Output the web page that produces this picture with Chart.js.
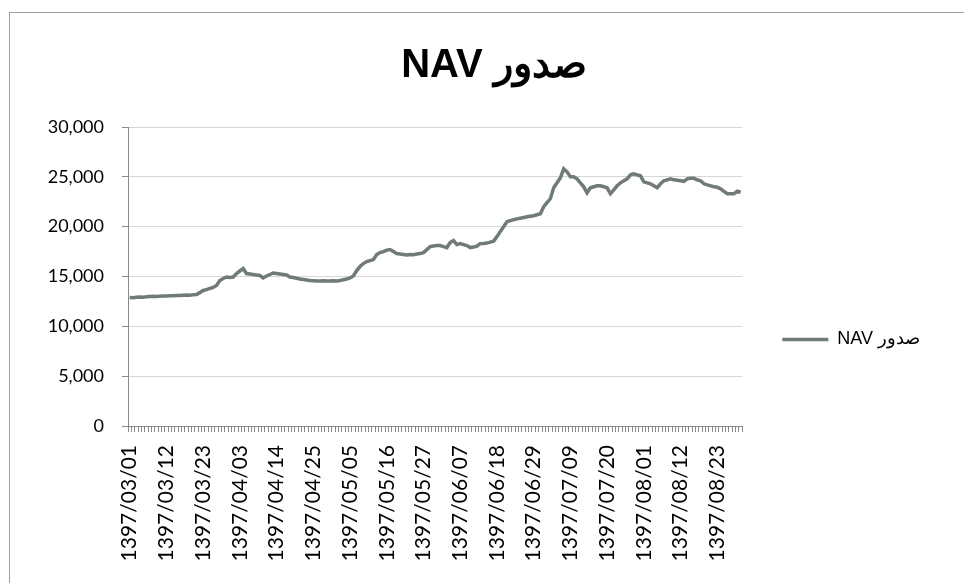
<!DOCTYPE html>
<html><head><meta charset="utf-8">
<script src="https://cdn.jsdelivr.net/npm/chart.js@4.4.0/dist/chart.umd.min.js"></script>
<style>
html,body{margin:0;padding:0;background:#fff;}
#wrap{position:relative;width:964px;height:583px;overflow:hidden;}
#frame{position:absolute;left:9px;top:12px;right:-4px;bottom:-4px;border-left:1px solid #a0a0a0;border-top:1px solid #a0a0a0;pointer-events:none;}
</style></head><body>
<div id="wrap"><canvas id="c" width="964" height="583"></canvas><div id="frame"></div></div>
<script>
// Persian calendar months 03..08 of 1397 and their day counts (data runs through 08/30)
const yearLabel = '1397';
const months = ['03','04','05','06','07','08'];
const monthDays = [31, 31, 31, 31, 30, 30];

const categories = [];
months.forEach((m, k) => {
  for (let d = 1; d <= monthDays[k]; d++) {
    categories.push(yearLabel + '/' + m + '/' + String(d).padStart(2, '0'));
  }
});

const tickLabels = ['1397/03/01','1397/03/12','1397/03/23','1397/04/03','1397/04/14','1397/04/25',
  '1397/05/05','1397/05/16','1397/05/27','1397/06/07','1397/06/18','1397/06/29',
  '1397/07/09','1397/07/20','1397/08/01','1397/08/12','1397/08/23'];

const navValues = [
  12900,12880,12920,12950,12930,12960,13000,13010,12990,13030,
  13050,13040,13070,13080,13100,13090,13120,13140,13130,13160,
  13200,13380,13600,13680,13800,13900,14100,14600,14800,14950,
  14900,14950,15300,15550,15800,15300,15250,15200,15150,15100,
  14850,15050,15200,15350,15300,15250,15200,15150,14950,14900,
  14820,14750,14700,14650,14600,14580,14560,14550,14570,14540,
  14550,14580,14560,14600,14680,14750,14850,15050,15600,16000,
  16300,16500,16600,16700,17200,17400,17500,17650,17700,17500,
  17300,17250,17200,17150,17200,17180,17250,17300,17400,17700,
  18000,18050,18100,18100,18000,17900,18400,18600,18200,18300,
  18200,18100,17900,17950,18050,18300,18320,18350,18450,18550,
  19000,19500,20000,20500,20600,20700,20780,20850,20920,21000,
  21050,21100,21200,21300,22000,22400,22800,23900,24400,24900,
  25800,25500,25000,25000,24800,24400,24000,23400,23900,24000,
  24100,24100,24000,23900,23300,23700,24100,24400,24600,24800,
  25200,25300,25200,25100,24500,24400,24300,24100,23900,24300,
  24600,24700,24800,24700,24650,24600,24550,24800,24850,24850,
  24700,24600,24300,24200,24100,24000,23950,23800,23550,23300,
  23300,23300,23550,23450
];

const yTicks = [0, 5000, 10000, 15000, 20000, 25000, 30000];
const seriesName = 'صدور NAV';
const titleText = 'صدور NAV';
const RLE = '\u202B', PDF = '\u202C';

// nudges the title block to the right so it is centred like the original frame
const titleShift = {
  id: 'titleShift',
  afterLayout(chart) {
    const t = chart.titleBlock;
    if (t) { t.left += 20; t.right += 20; }
  }
};

new Chart(document.getElementById('c'), {
  type: 'line',
  plugins: [titleShift],
  data: {
    labels: categories,
    datasets: [{
      label: RLE + seriesName + PDF,
      data: navValues,
      borderColor: '#6f7b74',
      backgroundColor: '#6f7b74',
      borderWidth: 3.5,
      pointRadius: 0,
      pointHoverRadius: 0,
      tension: 0,
      pointStyle: 'line'
    }]
  },
  options: {
    responsive: false,
    animation: false,
    devicePixelRatio: 1,
    layout: { padding: { left: 18, right: 34, top: 12, bottom: 8 } },
    plugins: {
      tooltip: { enabled: false },
      title: {
        display: true,
        text: RLE + titleText + PDF,
        color: '#000',
        font: { family: '"Liberation Sans", Arial, sans-serif', size: 40, weight: 'bold', lineHeight: 1.2 },
        padding: { top: 30, bottom: 37 }
      },
      legend: {
        display: true,
        position: 'right',
        align: 'center',
        title: { display: true, text: ' ', padding: { top: 80, bottom: 0 }, font: { size: 10 } },
        labels: {
          usePointStyle: true,
          pointStyle: 'line',
          pointStyleWidth: 46,
          padding: 40,
          color: '#000',
          font: { family: '"Liberation Sans", Arial, sans-serif', size: 18 }
        }
      }
    },
    scales: {
      x: {
        type: 'category',
        offset: true,
        afterFit: (s) => { s.height = 583 - 8 - 426; },
        grid: { display: true, drawOnChartArea: false, offset: true, tickLength: 6, color: '#8a8a8a', lineWidth: 1 },
        border: { display: true, color: '#8a8a8a', width: 1 },
        ticks: {
          autoSkip: false,
          minRotation: 90,
          maxRotation: 90,
          padding: 13,
          color: '#000',
          font: { family: 'Lato, sans-serif', size: 21 },
          callback: function (v, i) {
            const lab = categories[i];
            return tickLabels.includes(lab) ? lab : '';
          }
        }
      },
      y: {
        min: 0,
        max: 30000,
        afterFit: (s) => { s.width = 128 - 18; },
        afterBuildTicks: (s) => { s.ticks = yTicks.map(v => ({ value: v })); },
        grid: { color: '#d6d6d6', lineWidth: 1, tickLength: 6, tickColor: '#8a8a8a' },
        border: { display: true, color: '#8a8a8a', width: 1 },
        ticks: {
          padding: 18,
          color: '#000',
          font: { family: 'Lato, sans-serif', size: 18 },
          callback: (v) => Number(v).toLocaleString('en-US')
        }
      }
    }
  }
});
</script>
</body></html>
